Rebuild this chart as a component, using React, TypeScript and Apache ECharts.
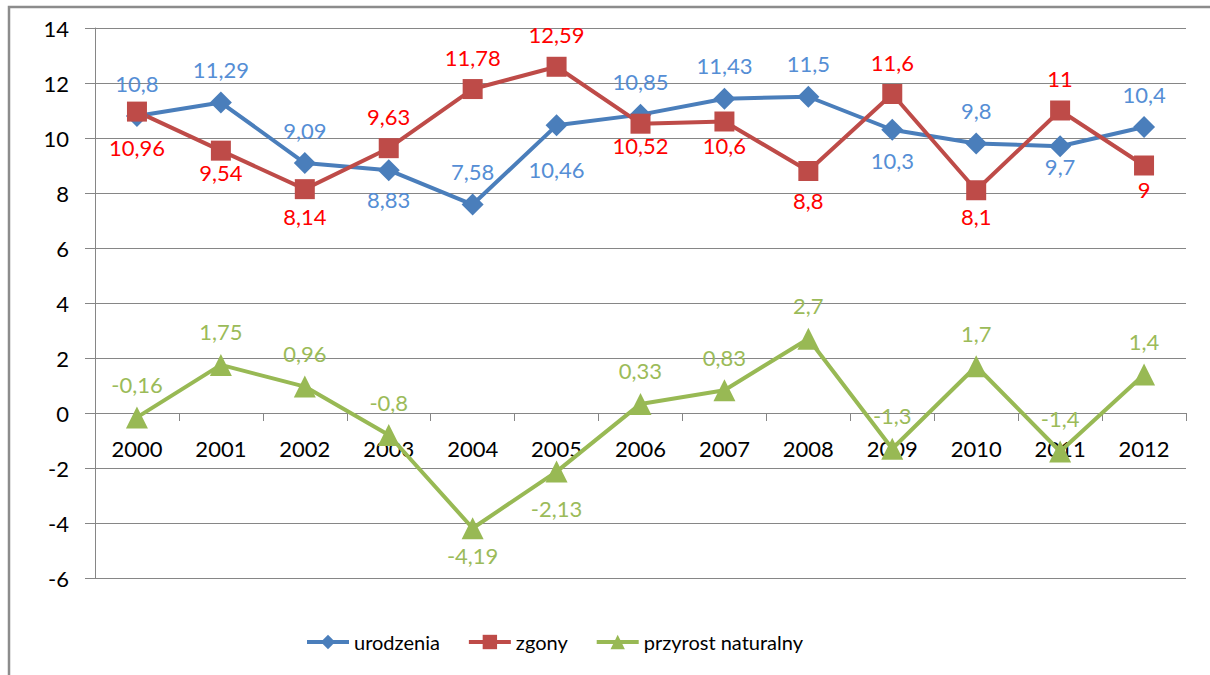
import React, { useEffect, useRef } from "react";
import * as echarts from "echarts";

const years = ["2000", "2001", "2002", "2003", "2004", "2005", "2006", "2007", "2008", "2009", "2010", "2011", "2012"];
const urodzenia = [10.8, 11.29, 9.09, 8.83, 7.58, 10.46, 10.85, 11.43, 11.5, 10.3, 9.8, 9.7, 10.4];
const zgony = [10.96, 9.54, 8.14, 9.63, 11.78, 12.59, 10.52, 10.6, 8.8, 11.6, 8.1, 11, 9];
const przyrost = [-0.16, 1.75, 0.96, -0.8, -4.19, -2.13, 0.33, 0.83, 2.7, -1.3, 1.7, -1.4, 1.4];

const seriesNames = ["urodzenia", "zgony", "przyrost naturalny"];
const yMin = -6;
const yMax = 14;
const yStep = 2;

// label placement: t = above, b = below
const urodzeniaLabelPos = ["t", "t", "t", "b", "t", "b", "t", "t", "t", "b", "t", "b", "t"];
const zgonyLabelPos = ["b", "b", "b", "t", "t", "t", "b", "b", "b", "t", "b", "t", "b"];
const przyrostLabelPos = ["t", "t", "t", "t", "b", "b", "t", "t", "t", "t", "t", "t", "t"];

// extra label shift away from the marker (px)
const urodzeniaLabelShift = [0, 0, 0, 4, 0, 19, 0, 0, 0, 6, 0, -5, 0];
const zgonyLabelShift = [12, -2, 3, 0, 0, 0, -2, 0, 5, 0, 2, 0, 0];
const przyrostLabelShift = [0, 0, 0, 0, 2, 12, 0, 0, 0, 0, 0, 0, 0];

const FONT = "Lato, 'Open Sans', sans-serif";

const GRID_TOP = 28;
const GRID_BOTTOM = 97;
const CHART_H = 675;

const fmt = (v: number) => String(v).replace(".", ",");

function buildData(values: number[], pos: string[], shift: number[]) {
  return values.map((v, i) => ({
    value: v,
    label: {
      position: pos[i] === "t" ? "top" : "bottom",
      distance: (pos[i] === "t" ? 11 : 3) + shift[i],
    },
  }));
}

export default function App() {
  const ref = useRef<HTMLDivElement>(null);

  useEffect(() => {
    if (!ref.current) return;
    const chart = echarts.init(ref.current, null, { renderer: "svg" });

    const plotH = CHART_H - GRID_TOP - GRID_BOTTOM;
    const zeroOffset = -((0 - yMin) / (yMax - yMin)) * plotH;

    const mkSeries = (
      name: string,
      values: number[],
      pos: string[],
      shift: number[],
      lineColor: string,
      labelColor: string,
      symbol: string,
      symbolSize: number
    ) => ({
      name,
      type: "line",
      data: buildData(values, pos, shift),
      symbol,
      symbolSize,
      lineStyle: { color: lineColor, width: 4 },
      itemStyle: { color: lineColor },
      label: {
        show: true,
        color: labelColor,
        fontSize: 22,
        fontFamily: FONT,
        formatter: (p: any) => fmt(p.value),
      },
      emphasis: { disabled: true },
    });

    chart.setOption({
      animation: false,
      backgroundColor: "#ffffff",
      textStyle: { fontFamily: FONT },
      graphic: [
        {
          type: "rect",
          shape: { x: 9, y: 7, width: 1300, height: 800 },
          style: { fill: "none", stroke: "#8c8c8c", lineWidth: 2.5 },
          silent: true,
          z: 100,
        },
      ],
      grid: { left: 95, right: 24, top: GRID_TOP, bottom: GRID_BOTTOM, containLabel: false },
      legend: {
        left: 300,
        top: 627,
        itemWidth: 42,
        itemHeight: 18,
        itemGap: 27,
        lineStyle: { width: 4 },
        textStyle: { fontSize: 20, color: "#000000", fontFamily: FONT },
        data: seriesNames,
      },
      xAxis: {
        type: "category",
        data: years,
        boundaryGap: true,
        offset: zeroOffset,
        axisLine: { onZero: false, lineStyle: { color: "#868686", width: 1 } },
        axisTick: { show: true, length: 8, inside: false, lineStyle: { color: "#868686" } },
        axisLabel: { fontSize: 22, color: "#000000", margin: 24, fontFamily: FONT },
        splitLine: { show: false },
        z: 1,
      },
      yAxis: {
        type: "value",
        min: yMin,
        max: yMax,
        interval: yStep,
        axisLine: { show: true, lineStyle: { color: "#868686", width: 1 } },
        axisTick: { show: true, length: 10, lineStyle: { color: "#868686" } },
        axisLabel: { fontSize: 22, color: "#000000", margin: 26, fontFamily: FONT, formatter: (v: number) => fmt(v) },
        splitLine: { show: true, lineStyle: { color: "#868686", width: 1 } },
      },
      series: [
        mkSeries(seriesNames[0], urodzenia, urodzeniaLabelPos, urodzeniaLabelShift, "#4A7EBB", "#558ED5", "diamond", 22),
        mkSeries(seriesNames[1], zgony, zgonyLabelPos, zgonyLabelShift, "#BE4B48", "#FF0000", "rect", 20),
        mkSeries(seriesNames[2], przyrost, przyrostLabelPos, przyrostLabelShift, "#98B954", "#9BBB59", "triangle", 22),
      ],
    });

    return () => chart.dispose();
  }, []);

  return (
    <div
      ref={ref}
      style={{ position: "fixed", left: 0, top: 0, width: 1210, height: 675, background: "#fff" }}
    />
  );
}
